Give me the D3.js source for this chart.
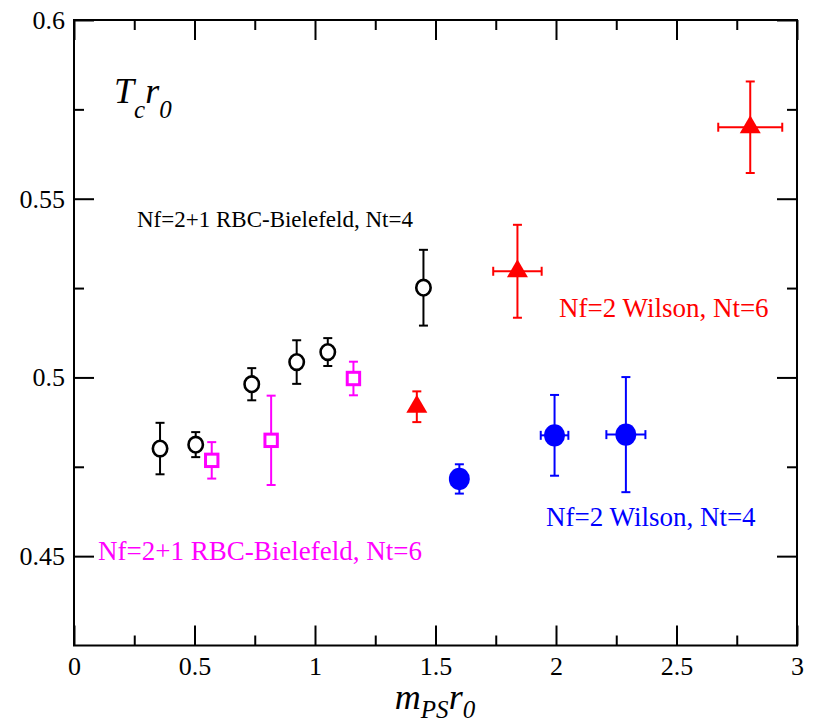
<!DOCTYPE html>
<html>
<head>
<meta charset="utf-8">
<script src="https://cdn.jsdelivr.net/npm/d3@7"></script>
<style>
  body { margin: 0; background: #fff; }
  svg { display: block; font-family: "Liberation Serif", "Times New Roman", serif; }
  .tick text { font-family: "Liberation Serif", "Times New Roman", serif; font-size: 26px; fill: #000; }
  .tick line { stroke: #000; stroke-width: 2px; }
</style>
</head>
<body>
<svg></svg>
<script>
var width = 815, height = 723;

// RBC-Bielefeld Nf=2+1, Nt=4 (open circles)
var rbc4X = [0.357, 0.505, 0.7375, 0.924, 1.053, 1.450];
var rbc4Y = [0.4801, 0.4812, 0.4981, 0.5043, 0.5071, 0.5251];
var rbc4Err = [0.0072, 0.0035, 0.0045, 0.0061, 0.0039, 0.0106];

// RBC-Bielefeld Nf=2+1, Nt=6 (open squares)
var rbc6X = [0.5715, 0.818, 1.1595];
var rbc6Y = [0.4768, 0.4824, 0.4997];
var rbc6Err = [0.0051, 0.0125, 0.0047];

// Nf=2 Wilson, Nt=6 (filled triangles)
var wil6X = [1.4225, 1.840, 2.806];
var wil6Y = [0.4918, 0.5297, 0.5700];
var wil6YErr = [0.0043, 0.0130, 0.0128];
var wil6XErr = [0, 0.1005, 0.1328];

// Nf=2 Wilson, Nt=4 (filled circles)
var wil4X = [1.599, 1.994, 2.290];
var wil4Y = [0.4716, 0.4838, 0.4840];
var wil4YErr = [0.0041, 0.0113, 0.0161];
var wil4XErr = [0, 0.0573, 0.081];

var xMajor = [0, 0.5, 1, 1.5, 2, 2.5, 3];
var xMinor = [0.25, 0.75, 1.25, 1.75, 2.25, 2.75];
var yMajor = [0.45, 0.5, 0.55, 0.6];
var yMinor = [0.475, 0.525, 0.575];

var plotLeft = 74, plotTop = 20, plotRight = 797, plotBottom = 645.5;

var svg = d3.select("svg")
  .attr("width", width)
  .attr("height", height);

var x = d3.scaleLinear().domain([0, 3]).range([plotLeft, plotRight]);
var y = d3.scaleLinear().domain([0.425, 0.6]).range([plotBottom, plotTop]);

function fmt(d) { return String(d); }

function addAxis(axis, tx, ty) {
  svg.append("g")
    .attr("transform", "translate(" + tx + "," + ty + ")")
    .call(axis)
    .attr("font-family", null)
    .attr("font-size", null);
}

// axes with inward ticks on all four sides
addAxis(d3.axisBottom(x).tickValues(xMajor).tickFormat(fmt).tickSize(-20).tickPadding(11), 0, plotBottom);
addAxis(d3.axisBottom(x).tickValues(xMinor).tickFormat("").tickSize(-10), 0, plotBottom);
addAxis(d3.axisTop(x).tickValues(xMajor).tickFormat("").tickSize(-20), 0, plotTop);
addAxis(d3.axisTop(x).tickValues(xMinor).tickFormat("").tickSize(-10), 0, plotTop);

addAxis(d3.axisLeft(y).tickValues(yMajor).tickFormat(fmt).tickSize(-20).tickPadding(9), plotLeft, 0);
addAxis(d3.axisLeft(y).tickValues(yMinor).tickFormat("").tickSize(-10), plotLeft, 0);
addAxis(d3.axisRight(y).tickValues(yMajor).tickFormat("").tickSize(-20), plotRight, 0);
addAxis(d3.axisRight(y).tickValues(yMinor).tickFormat("").tickSize(-10), plotRight, 0);

svg.selectAll(".domain").remove();

svg.append("rect")
  .attr("x", plotLeft).attr("y", plotTop)
  .attr("width", plotRight - plotLeft).attr("height", plotBottom - plotTop)
  .attr("fill", "none").attr("stroke", "#000").attr("stroke-width", 2);

// error bars
function errorBars(xs, ys, yErr, xErr, color) {
  var g = svg.append("g").attr("stroke", color).attr("stroke-width", 2).attr("fill", "none");
  var cap = 4.5;
  xs.forEach(function(xv, i) {
    var cx = x(xv), cy = y(ys[i]);
    var y0 = y(ys[i] - yErr[i]), y1 = y(ys[i] + yErr[i]);
    g.append("line").attr("x1", cx).attr("x2", cx).attr("y1", y0).attr("y2", y1);
    g.append("line").attr("x1", cx - cap).attr("x2", cx + cap).attr("y1", y0).attr("y2", y0);
    g.append("line").attr("x1", cx - cap).attr("x2", cx + cap).attr("y1", y1).attr("y2", y1);
    if (xErr && xErr[i] > 0) {
      var x0 = x(xv - xErr[i]), x1 = x(xv + xErr[i]);
      g.append("line").attr("x1", x0).attr("x2", x1).attr("y1", cy).attr("y2", cy);
      g.append("line").attr("x1", x0).attr("x2", x0).attr("y1", cy - cap).attr("y2", cy + cap);
      g.append("line").attr("x1", x1).attr("x2", x1).attr("y1", cy - cap).attr("y2", cy + cap);
    }
  });
}

errorBars(rbc4X, rbc4Y, rbc4Err, null, "#000");
errorBars(rbc6X, rbc6Y, rbc6Err, null, "#ff00ff");
errorBars(wil6X, wil6Y, wil6YErr, wil6XErr, "#ff0000");
errorBars(wil4X, wil4Y, wil4YErr, wil4XErr, "#0000ff");

// open circles
svg.append("g").selectAll("ellipse")
  .data(rbc4X)
  .enter().append("ellipse")
  .attr("cx", function(d) { return x(d); })
  .attr("cy", function(d, i) { return y(rbc4Y[i]); })
  .attr("rx", 7.2).attr("ry", 7.8)
  .attr("fill", "#fff").attr("stroke", "#000").attr("stroke-width", 2.6);

// open squares
svg.append("g").selectAll("rect")
  .data(rbc6X)
  .enter().append("rect")
  .attr("x", function(d) { return x(d) - 6.2; })
  .attr("y", function(d, i) { return y(rbc6Y[i]) - 6.2; })
  .attr("width", 12.4).attr("height", 12.4)
  .attr("fill", "#fff").attr("stroke", "#ff00ff").attr("stroke-width", 3);

// filled triangles
svg.append("g").selectAll("path")
  .data(wil6X)
  .enter().append("path")
  .attr("d", function(d, i) {
    var cx = x(d), cy = y(wil6Y[i]);
    return "M" + cx + "," + (cy - 12) + "L" + (cx + 10.5) + "," + (cy + 6) + "L" + (cx - 10.5) + "," + (cy + 6) + "Z";
  })
  .attr("fill", "#ff0000");

// filled circles
svg.append("g").selectAll("ellipse")
  .data(wil4X)
  .enter().append("ellipse")
  .attr("cx", function(d) { return x(d); })
  .attr("cy", function(d, i) { return y(wil4Y[i]); })
  .attr("rx", 10.5).attr("ry", 11.2)
  .attr("fill", "#0000ff");

// series labels
var labels = [
  { text: "Nf=2+1 RBC-Bielefeld, Nt=4", x: 137, y: 226.5, size: 23, color: "#000" },
  { text: "Nf=2+1 RBC-Bielefeld, Nt=6", x: 98, y: 559.5, size: 27, color: "#ff00ff" },
  { text: "Nf=2 Wilson, Nt=6", x: 559, y: 317, size: 27, color: "#ff0000" },
  { text: "Nf=2 Wilson, Nt=4", x: 546, y: 525.5, size: 27, color: "#0000ff" }
];
svg.append("g").selectAll("text")
  .data(labels)
  .enter().append("text")
  .attr("x", function(d) { return d.x; })
  .attr("y", function(d) { return d.y; })
  .attr("font-size", function(d) { return d.size; })
  .attr("fill", function(d) { return d.color; })
  .text(function(d) { return d.text; });

// axis titles (italic, with subscripts)
var yTitle = svg.append("text")
  .attr("x", 114).attr("y", 102.5)
  .attr("font-size", 36).attr("font-style", "italic");
yTitle.append("tspan").text("T");
yTitle.append("tspan").attr("font-size", 25).attr("dy", 15).text("c");
yTitle.append("tspan").attr("dy", -15).text("r");
yTitle.append("tspan").attr("font-size", 25).attr("dy", 15).text("0");

var xTitle = svg.append("text")
  .attr("x", 435).attr("y", 709).attr("text-anchor", "middle")
  .attr("font-size", 36).attr("font-style", "italic");
xTitle.append("tspan").text("m");
xTitle.append("tspan").attr("font-size", 25).attr("dy", 9).text("PS");
xTitle.append("tspan").attr("dy", -9).text("r");
xTitle.append("tspan").attr("font-size", 25).attr("dy", 9).text("0");
</script>
</body>
</html>
